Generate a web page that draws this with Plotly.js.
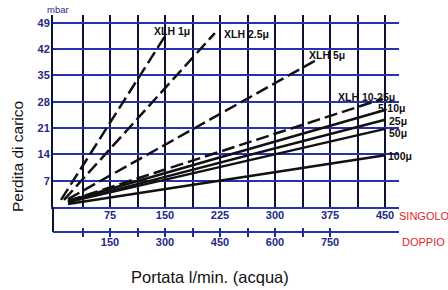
<!DOCTYPE html>
<html><head><meta charset="utf-8">
<script src="https://cdn.plot.ly/plotly-3.0.1.min.js"></script>
<style>html,body{margin:0;padding:0;background:#fff}</style>
</head><body><div id="chart" style="width:448px;height:290px"></div>
<script>
// ---- data ----
const seriesNames = ['XLH 1μ', 'XLH 2.5μ', 'XLH 5μ', 'XLH 10-25μ', '5-10μ', '25μ', '50μ', '100μ'];
const flowStart = [8.2, 12.3, 17.7, 17.7, 17.7, 17.7, 17.7, 17.7];      // l/min (singolo)
const flowEnd   = [152.7, 218, 356, 447, 450, 450, 450, 450];
const lossStart = [1.9, 1.9, 2.1, 1.6, 1.6, 1.3, 1.3, 0.8];             // mbar
const lossEnd   = [46.3, 46.3, 39.1, 28.8, 25.8, 23.2, 20.8, 13.8];
const isDashed  = [true, true, true, true, false, false, false, false];
const singoloTicks = [75, 150, 225, 300, 375, 450];
const singoloGrid  = [37.5, 112.5, 187.5, 262.5, 337.5, 412.5];
const doppioTicks  = [150, 300, 450, 600, 750];
const doppioMinor  = [75, 225, 375, 525, 675];
const lossTicks    = [7, 14, 21, 28, 35, 42, 49];

// ---- layout helpers ----
const W = 448, H = 290, ML = 53, MR = 49, MT = 15, MB = 58;
const PW = W - ML - MR, PH = H - MT - MB;
const px = v => (v - ML) / PW;
const py = v => (H - MB - v) / PH;

const NAVY = '#1d2a86', GRIDH = '#2633b0', GRIDV = '#0e1230', LINE = '#111111', RED = '#e3222b';
const FONT = 'Liberation Sans, Arial, sans-serif';

const traces = seriesNames.map((n, i) => ({
  x: [flowStart[i], flowEnd[i]],
  y: [lossStart[i], lossEnd[i]],
  name: n, mode: 'lines', hoverinfo: 'skip', showlegend: false,
  line: {color: LINE, width: 2.5, dash: isDashed[i] ? '13px,5px' : 'solid'}
}));
traces.push({x: [], y: [], xaxis: 'x2', yaxis: 'y', showlegend: false});
traces.push({x: [], y: [], xaxis: 'x3', yaxis: 'y', showlegend: false});

const yDomBottom = (H - MB - 207) / PH;
const xRange = [-2.73, 469];
const tickFont = {family: FONT, size: 11, color: NAVY, weight: 'bold'};

const labelPos = [[152, 31], [222, 34], [307, 55], [336, 97], [376, 108], [387, 121], [387, 133], [386, 156]];
const annotations = seriesNames.map((n, i) => ({
  text: '<b>' + n + '</b>', xref: 'paper', yref: 'paper',
  x: px(labelPos[i][0]), y: py(labelPos[i][1]), xanchor: 'left', yanchor: 'middle',
  showarrow: false, font: {family: FONT, size: 10.5, color: '#111'}
}));
annotations.push(
  {text: 'mbar', xref: 'paper', yref: 'paper', x: px(45), y: py(10), xanchor: 'left', yanchor: 'middle', showarrow: false, font: {family: FONT, size: 9.5, color: NAVY}},
  {text: 'SINGOLO', xref: 'paper', yref: 'paper', x: px(397), y: py(216), xanchor: 'left', yanchor: 'middle', showarrow: false, font: {family: FONT, size: 11, color: RED}},
  {text: 'DOPPIO', xref: 'paper', yref: 'paper', x: px(400), y: py(242), xanchor: 'left', yanchor: 'middle', showarrow: false, font: {family: FONT, size: 11, color: RED}},
  {text: 'Perdita di carico', xref: 'paper', yref: 'paper', x: px(17), y: py(157), xanchor: 'center', yanchor: 'middle', textangle: -90, showarrow: false, font: {family: FONT, size: 15.5, color: '#111'}},
  {text: 'Portata l/min. (acqua)', xref: 'paper', yref: 'paper', x: px(210), y: py(277), xanchor: 'center', yanchor: 'middle', showarrow: false, font: {family: FONT, size: 16.5, color: '#111'}}
);

const layout = {
  width: W, height: H,
  margin: {l: ML, r: MR, t: MT, b: MB, pad: 0},
  paper_bgcolor: '#fff', plot_bgcolor: '#fff',
  showlegend: false,
  xaxis: {
    range: xRange, anchor: 'y', tickmode: 'array', tickvals: singoloTicks,
    showgrid: true, gridcolor: GRIDV, gridwidth: 2, zeroline: false,
    showline: true, linecolor: GRIDH, linewidth: 2, ticks: '', tickfont: tickFont,
    ticklabelstandoff: -3,
    minor: {tickvals: singoloGrid, showgrid: true, gridcolor: GRIDV, gridwidth: 2, ticks: ''}
  },
  xaxis2: {
    overlaying: 'x', anchor: 'free', position: 0, side: 'bottom',
    range: xRange.map(v => v * 2), tickmode: 'array', tickvals: doppioTicks,
    showgrid: false, zeroline: false, showline: true, linecolor: GRIDH, linewidth: 2,
    ticks: 'outside', ticklen: 4, tickwidth: 2, tickcolor: NAVY, tickfont: tickFont,
    ticklabelstandoff: -4,
    minor: {tickvals: doppioMinor, ticks: 'outside', ticklen: 4, tickwidth: 2, tickcolor: NAVY, showgrid: false}
  },
  xaxis3: {
    overlaying: 'x', anchor: 'free', position: 0, side: 'bottom',
    range: xRange.map(v => v * 2), tickmode: 'array', tickvals: doppioTicks,
    showgrid: false, zeroline: false, showline: false, showticklabels: false,
    ticks: 'inside', ticklen: 4, tickwidth: 2, tickcolor: NAVY,
    minor: {tickvals: doppioMinor, ticks: 'inside', ticklen: 4, tickwidth: 2, tickcolor: NAVY, showgrid: false}
  },
  yaxis: {
    range: [0, 51.1], domain: [yDomBottom, 1], tickmode: 'array', tickvals: lossTicks,
    showgrid: true, gridcolor: GRIDH, gridwidth: 2, zeroline: false,
    showline: true, linecolor: GRIDV, linewidth: 2, ticks: '', tickfont: tickFont,
    ticklabelstandoff: -1
  },
  shapes: [
    {type: 'line', xref: 'paper', yref: 'paper', x0: 0, x1: 0, y0: 0, y1: yDomBottom, line: {color: GRIDV, width: 2}}
  ],
  annotations: annotations
};

Plotly.newPlot('chart', traces, layout, {staticPlot: true, displayModeBar: false});
</script></body></html>
